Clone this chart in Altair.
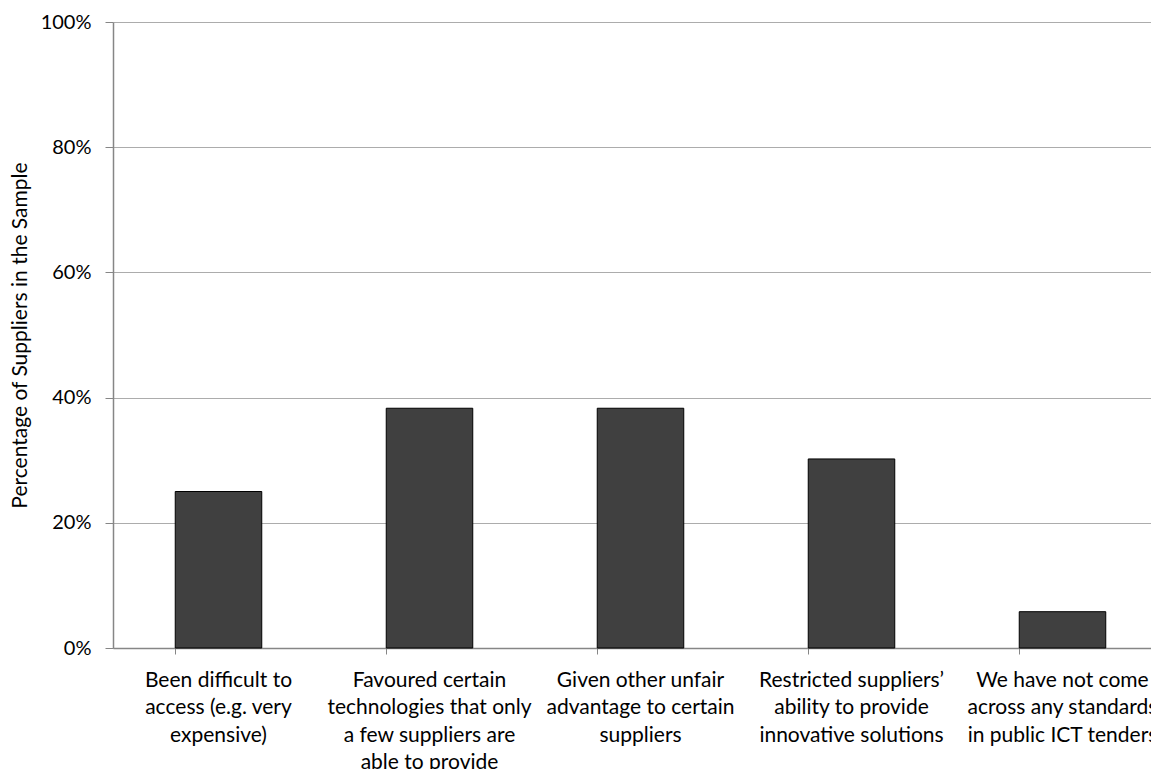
import altair as alt
import pandas as pd

categories = [
    "Been difficult to|access (e.g. very|expensive)",
    "Favoured certain|technologies that only|a few suppliers are|able to provide",
    "Given other unfair|advantage to certain|suppliers",
    "Restricted suppliers’|ability to provide|innovative solutions",
    "We have not come|across any standards|in public ICT tenders",
]
values = [0.25, 0.383, 0.383, 0.302, 0.058]
y_ticks = [0, 0.2, 0.4, 0.6, 0.8, 1.0]

df = pd.DataFrame({"cat": categories, "val": values})

FONT = "Lato"

chart = alt.Chart(df).mark_bar(
    color="#404040", stroke="#000000", strokeWidth=1
).encode(
    x=alt.X(
        "cat:N",
        sort=categories,
        title=None,
        scale=alt.Scale(range=[0, 1055], paddingInner=0.59, paddingOuter=0.295),
        axis=alt.Axis(
            labelExpr="split(datum.label, '|')",
            labelAngle=0,
            labelFont=FONT,
            labelFontSize=21,
            labelColor="#000000",
            labelLineHeight=27.5,
            labelPadding=15,
            labelLimit=400,
            bandPosition=0,
            tickSize=6,
            tickColor="#868686",
            domainColor="#868686",
            domainWidth=1.5,
            grid=False,
        ),
    ),
    y=alt.Y(
        "val:Q",
        title="Percentage of Suppliers in the Sample",
        scale=alt.Scale(domain=[0, 1], nice=False),
        axis=alt.Axis(
            format=".0%",
            values=y_ticks,
            labelFont=FONT,
            labelFontSize=20,
            labelColor="#000000",
            labelPadding=14,
            tickSize=8,
            tickColor="#868686",
            domainColor="#868686",
            domainWidth=1.5,
            gridColor="#acacac",
            gridWidth=1,
            titleFont=FONT,
            titleFontSize=21,
            titleFontWeight="normal",
            titleColor="#000000",
            titlePadding=10,
        ),
    ),
).properties(
    width=1038,
    height=626,
    autosize=alt.AutoSizeParams(type="none"),
    padding={"left": 105, "top": 14, "right": 0, "bottom": 121},
).configure_view(
    stroke=None
)

chart.save("out.html", embed_options={"renderer": "svg", "actions": False})
